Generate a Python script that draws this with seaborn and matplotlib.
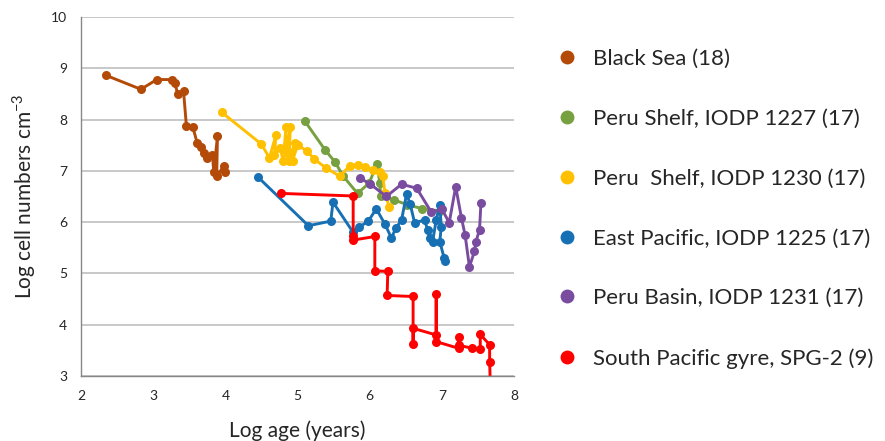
import numpy as np
import pandas as pd
import matplotlib
matplotlib.use("Agg")
import matplotlib.pyplot as plt
from matplotlib.lines import Line2D
import seaborn as sns

# ── data (log age, log cells) ─────────────────────────────────────────────
black_sea_x = [2.35, 2.83, 3.05, 3.26, 3.30, 3.34, 3.42, 3.46, 3.55, 3.61, 3.66,
               3.70, 3.75, 3.82, 3.84, 3.89, 3.88, 3.98, 4.00]
black_sea_y = [8.86, 8.59, 8.78, 8.78, 8.71, 8.50, 8.56, 7.88, 7.85, 7.54, 7.46,
               7.35, 7.25, 7.31, 6.98, 7.67, 6.89, 7.10, 6.98]

peru1227_x = [5.10, 5.38, 5.52, 5.63, 5.83, 5.99, 6.10, 6.14, 6.15, 6.34, 6.52, 6.73, 6.97]
peru1227_y = [7.97, 7.41, 7.17, 6.90, 6.56, 6.76, 7.13, 6.76, 6.50, 6.43, 6.34, 6.26, 6.22]

peru1230_x = [3.95, 4.50, 4.61, 4.70, 4.68, 4.76, 4.80, 4.84, 4.85, 4.90, 4.88, 4.96,
              4.93, 5.00, 5.13, 5.23, 5.39, 5.59, 5.72, 5.84, 5.93, 6.05, 6.14, 6.18,
              6.21, 6.27]
peru1230_y = [8.14, 7.52, 7.25, 7.70, 7.30, 7.45, 7.20, 7.85, 7.35, 7.85, 7.20, 7.55,
              7.20, 7.50, 7.39, 7.23, 7.06, 6.89, 7.10, 7.12, 7.08, 7.02, 6.97, 6.90,
              6.56, 6.30]

east_pac_x = [4.45, 5.15, 5.46, 5.49, 5.77, 5.85, 5.98, 6.09, 6.21, 6.30, 6.36, 6.44,
              6.51, 6.56, 6.62, 6.76, 6.80, 6.83, 6.87, 6.92, 6.97, 6.99, 6.97, 7.03, 7.04]
east_pac_y = [6.88, 5.93, 6.02, 6.39, 5.80, 5.90, 6.02, 6.26, 5.96, 5.69, 5.88, 6.04,
              6.55, 6.35, 5.99, 6.04, 5.85, 5.69, 5.62, 6.04, 6.34, 5.91, 5.62, 5.30, 5.24]

peru_basin_x = [5.86, 6.00, 6.23, 6.44, 6.65, 6.85, 7.00, 7.10, 7.19, 7.27, 7.32,
                7.38, 7.45, 7.47, 7.52, 7.54]
peru_basin_y = [6.86, 6.75, 6.50, 6.74, 6.66, 6.20, 6.25, 5.99, 6.69, 6.08, 5.75,
                5.13, 5.43, 5.62, 5.85, 6.38]

spg_x = [4.77, 5.77, 5.77, 5.77, 6.07, 6.07, 6.25, 6.24, 6.60, 6.60, 6.60, 6.92,
         6.92, 6.92, 7.23, 7.23, 7.23, 7.42, 7.53, 7.53, 7.66, 7.66, 7.67]
spg_y = [6.56, 6.51, 5.72, 5.65, 5.72, 5.05, 5.04, 4.57, 4.55, 3.63, 3.93, 3.80,
         4.60, 3.67, 3.54, 3.77, 3.60, 3.54, 3.52, 3.81, 3.61, 3.28, 2.80]

labels = ["Black Sea (18)", "Peru Shelf, IODP 1227 (17)", "Peru  Shelf, IODP 1230 (17)",
          "East Pacific, IODP 1225 (17)", "Peru Basin, IODP 1231 (17)",
          "South Pacific gyre, SPG-2 (9)"]
colors = ["#B44A08", "#77A040", "#FFC000", "#1870B4", "#7A4CA0", "#FF0000"]

series = [(black_sea_x, black_sea_y), (peru1227_x, peru1227_y), (peru1230_x, peru1230_y),
          (east_pac_x, east_pac_y), (peru_basin_x, peru_basin_y), (spg_x, spg_y)]

df = pd.concat(
    [pd.DataFrame({"age": x, "cells": y, "site": lab}) for (x, y), lab in zip(series, labels)],
    ignore_index=True,
)

sns.set_style("white")
plt.rcParams["font.family"] = ["Lato", "DejaVu Sans"]
plt.rcParams["axes.unicode_minus"] = False

fig = plt.figure(figsize=(8.85, 4.41), dpi=100)
ax = fig.add_axes([0.0915, 0.1474, 0.4895, 0.8141])

for lab, col in zip(labels, colors):
    sub = df[df["site"] == lab]
    sns.lineplot(data=sub, x="age", y="cells", sort=False, estimator=None,
                 color=col, lw=2.1, marker="o", markersize=6.5,
                 markeredgewidth=0, ax=ax, legend=False)

ax.set_xlim(2, 8)
ax.set_ylim(3, 10)
ax.set_xticks(range(2, 9))
ax.set_yticks(range(3, 11))
ax.yaxis.grid(True, color="#BFBFBF", lw=1.2)
ax.xaxis.grid(False)
ax.set_axisbelow(True)
for s in ["top", "right"]:
    ax.spines[s].set_visible(False)
for s in ["left", "bottom"]:
    ax.spines[s].set_color("#878787")
    ax.spines[s].set_linewidth(1.0)
ax.tick_params(axis="both", which="major", direction="out", length=5, width=1,
               color="#878787", labelsize=10, pad=5)
ax.set_xlabel("Log age (years)", fontsize=15, labelpad=13)
ax.set_ylabel("Log cell numbers cm$^{\\mathregular{-3}}$", fontsize=15, labelpad=9)

handles = [Line2D([], [], ls="none", marker="o", markersize=10, color=c, markeredgewidth=0)
           for c in colors]
fig.legend(handles, labels, loc="upper left", bbox_to_anchor=(0.6056, 0.934),
           frameon=False, fontsize=16, labelspacing=1.79, handletextpad=0.65,
           handlelength=1.0)

fig.savefig("out.png", dpi=100)
